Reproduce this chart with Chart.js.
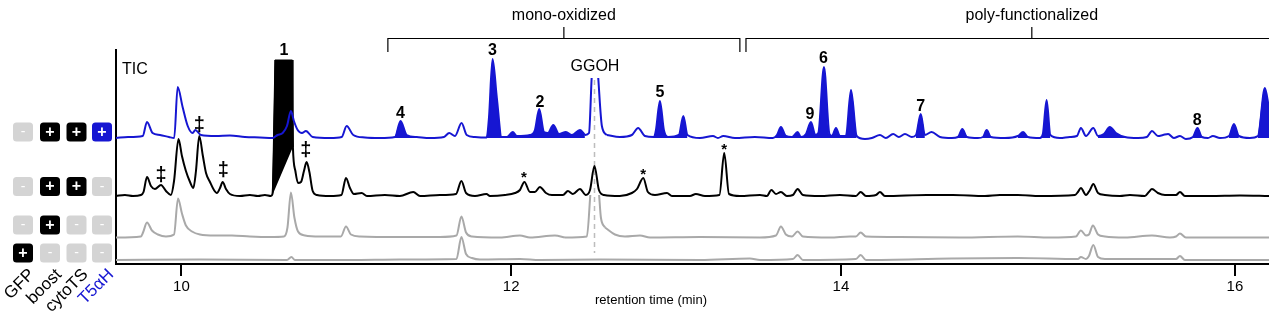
<!DOCTYPE html>
<html><head><meta charset="utf-8">
<script src="https://cdn.jsdelivr.net/npm/chart.js@4.4.0/dist/chart.umd.min.js"></script>
<style>html,body{margin:0;padding:0;background:#fff;}#wrap{width:1269px;height:327px;}</style>
</head><body><div id="wrap"><canvas id="c" width="1269" height="327"></canvas></div>
<script>
// ---------- data (retention time in min, TIC height above each trace's own baseline) ----------
const retentionTicks = [10, 12, 14, 16];
const tickLabels = ['10', '12', '14', '16'];
const traceNames = ['GFP+boost+cytoTS+T5αH', 'boost+cytoTS', 'boost', 'GFP'];
const traceOffsets = [126, 68, 26.5, 4];

const ticBlue = [[9.603,0],[9.676,1],[9.765,2],[9.791,16],[9.825,5],[9.870,3],[9.924,1],[9.956,0],[9.977,51],[10.007,31],[10.038,12],[10.068,5],[10.084,8],[10.118,3],[10.209,2],[10.294,2.5],[10.385,1],[10.476,0.5],[10.553,0],[10.583,3],[10.614,5],[10.640,12],[10.664,27],[10.682,17],[10.705,8],[10.731,5],[10.755,7],[10.796,1],[10.901,0],[10.972,1],[11.002,12],[11.042,3],[11.113,0.5],[11.204,0],[11.295,1],[11.329,17],[11.366,3],[11.427,1],[11.507,0],[11.592,1],[11.624,5],[11.659,2],[11.699,15],[11.730,3],[11.780,1],[11.851,0.5],[11.865,20],[11.887,79],[11.913,40],[11.942,1],[11.974,1],[12.009,6],[12.035,2],[12.114,3],[12.144,8],[12.170,29],[12.199,6],[12.223,5],[12.255,13],[12.290,4],[12.332,6],[12.368,3],[12.417,8],[12.447,3],[12.472,5],[12.488,60],[12.508,110],[12.528,60],[12.550,12],[12.579,3],[12.659,1],[12.732,3],[12.770,10],[12.811,2],[12.866,1],[12.878,8],[12.902,37],[12.926,8],[12.951,1],[13.017,3],[13.044,22],[13.069,3],[13.145,0],[13.224,2],[13.254,0],[13.286,2],[13.357,0],[13.478,1],[13.587,0],[13.612,3],[13.636,11],[13.666,2],[13.703,1],[13.737,6],[13.757,1],[13.788,4],[13.818,16],[13.845,3],[13.863,5],[13.897,71],[13.930,4],[13.945,2],[13.970,10],[13.994,2],[14.025,2],[14.051,48],[14.080,2],[14.122,-1],[14.157,0],[14.198,3],[14.228,0],[14.265,4],[14.294,1],[14.325,4],[14.360,1],[14.381,3],[14.405,24],[14.426,3],[14.460,6],[14.503,1],[14.563,0],[14.594,1],[14.616,9],[14.640,1],[14.695,0],[14.721,1],[14.740,8],[14.761,1],[14.832,0],[14.898,2],[14.925,6],[14.949,1],[15.010,0],[15.025,4],[15.044,38],[15.063,3],[15.112,0],[15.162,1],[15.198,2],[15.218,10],[15.244,2],[15.281,10],[15.305,2],[15.335,4],[15.365,11],[15.396,5],[15.442,1],[15.508,0],[15.553,1],[15.579,7],[15.609,2],[15.635,3],[15.661,4],[15.690,0],[15.721,2],[15.751,-1],[15.787,1],[15.810,10],[15.832,1],[15.863,0],[15.888,2],[15.924,0],[15.970,2],[15.995,14],[16.020,2],[16.076,0],[16.117,2],[16.152,50],[16.173,30]];

const ticBlack = [[9.603,0],[9.657,1],[9.706,0],[9.754,1],[9.770,4],[9.791,19],[9.815,10],[9.839,7],[9.876,11],[9.906,5],[9.936,1],[9.955,15],[9.982,57],[10.003,40],[10.027,25],[10.052,14],[10.072,8],[10.088,25],[10.108,60],[10.130,40],[10.149,23],[10.173,14],[10.197,6],[10.215,3],[10.234,8],[10.250,14],[10.270,7],[10.294,2],[10.355,0],[10.415,1],[10.464,0],[10.506,1],[10.543,0],[10.552,2],[10.617,590],[10.676,49],[10.691,25],[10.707,13],[10.725,14],[10.743,25],[10.759,34],[10.776,24],[10.796,5],[10.822,1],[10.901,0],[10.970,1],[10.998,18],[11.022,8],[11.046,2],[11.093,3],[11.125,0],[11.234,1],[11.325,0],[11.406,4],[11.447,0],[11.568,1],[11.665,2],[11.698,15],[11.726,3],[11.780,0],[11.850,2],[11.871,0],[11.962,1],[12.023,3],[12.053,6],[12.080,14],[12.114,4],[12.144,4],[12.174,9],[12.211,3],[12.247,1],[12.314,1],[12.344,5],[12.374,2],[12.417,7],[12.453,1],[12.478,6],[12.505,30],[12.532,6],[12.563,1],[12.659,0],[12.732,3],[12.763,7],[12.801,18],[12.829,4],[12.872,1],[12.945,3],[12.975,0],[13.084,0],[13.120,2],[13.175,0],[13.263,1],[13.292,43],[13.321,2],[13.387,0],[13.509,1],[13.551,0],[13.578,6],[13.606,2],[13.636,4],[13.672,0],[13.709,1],[13.737,7],[13.769,1],[13.873,0],[13.994,1],[14.076,0],[14.100,4],[14.127,0],[14.178,1],[14.198,4],[14.223,0],[14.435,1],[14.569,1],[14.731,0],[14.807,1],[14.898,1],[15.010,0],[15.188,1],[15.203,4],[15.218,8],[15.244,1],[15.264,6],[15.281,12],[15.305,3],[15.340,1],[15.416,0],[15.467,1],[15.543,0],[15.563,4],[15.579,7],[15.609,3],[15.645,1],[15.701,1],[15.721,4],[15.746,0],[15.873,0],[16.025,0.5],[16.173,0]];

const ticBoost = [[9.603,0],[9.754,1],[9.767,5],[9.791,15],[9.821,7],[9.857,3],[9.906,1],[9.955,3],[9.979,39],[10.003,24],[10.027,12],[10.064,6],[10.112,3],[10.203,2],[10.306,2],[10.415,1],[10.537,0.5],[10.622,1],[10.643,10],[10.664,45],[10.685,20],[10.707,6],[10.749,2],[10.840,1],[10.967,1],[10.998,11],[11.028,3],[11.083,1],[11.325,0.5],[11.568,0.5],[11.668,2],[11.698,21],[11.726,5],[11.762,1],[11.932,0],[12.053,2],[12.114,0],[12.265,2],[12.326,0],[12.459,1],[12.481,45],[12.505,90],[12.532,45],[12.544,20],[12.569,10],[12.629,3],[12.690,1],[12.781,2],[12.842,0],[13.145,0.5],[13.509,0],[13.606,2],[13.636,11],[13.666,3],[13.703,1],[13.737,6],[13.769,1],[13.933,0],[14.046,1],[14.076,1],[14.100,5],[14.127,1],[14.299,0.5],[14.604,0],[14.898,1],[15.063,0],[15.193,1],[15.218,7],[15.244,2],[15.259,3],[15.279,12],[15.305,3],[15.340,1],[15.442,0],[15.579,2],[15.670,0],[15.701,1],[15.721,4],[15.751,0],[16.173,0]];

const ticGFP = [[9.603,0],[10.112,0.5],[10.640,0],[10.667,3],[10.688,0],[11.022,0],[11.325,0.5],[11.668,1],[11.698,23],[11.726,6],[11.762,2],[11.810,0.5],[12.053,1],[12.174,0],[12.538,0.5],[13.145,0],[13.448,1.5],[13.509,0],[13.709,1],[13.737,5],[13.769,0],[14.076,1],[14.100,5],[14.127,0],[14.562,1.5],[14.898,2],[15.203,1],[15.218,3],[15.244,1],[15.259,4],[15.281,15],[15.305,3],[15.340,1],[15.701,1],[15.721,4],[15.746,0],[16.173,0]];

// integrated (filled) blue peaks, retention-time windows
const blueFilledWindows = [[11.295,11.427],[11.851,11.942],[11.974,12.035],[12.114,12.447],[12.866,12.951],[13.017,13.069],[13.587,14.080],[14.381,14.426],[14.594,14.640],[14.721,14.761],[14.898,14.949],[15.010,15.063],[15.305,15.442],[15.787,15.832],[15.970,16.020],[16.117,16.173]];
// compound 1 (truncated, filled) outline on the boost+cytoTS trace
const peak1Outline = [[10.552,1],[10.567,136],[10.673,136],[10.676,49]];
const ggohTime = 12.505;
const ggohWindow = [12.455, 12.56];

const peakLabels = [['1',10.622,213],['3',11.887,213],['4',11.329,150],['2',12.174,161.5],['5',12.902,171],['9',13.812,149],['6',13.894,205],['7',14.405,157.5],['8',15.809,143]];
const daggers = [[9.876,89],[10.108,139],[10.254,94],[10.755,114]];
const stars = [[12.077,89],[12.801,92],[13.292,117]];
const brackets = [['mono-oxidized',11.252,13.387],['poly-functionalized',13.424,16.42]];

const conditionNames = ['GFP', 'boost', 'cytoTS', 'T5αH'];
const conditionRows = [[0,1,1,1],[0,1,1,0],[0,1,0,0],[1,0,0,0]];

// ---------- styling ----------
const BLUE = '#1616d2', GRAY = '#a9a9a9', FONT = "'Liberation Sans', Arial, Helvetica, sans-serif";

// axis drawn with a stretched segment after 14 min, as in the figure
class SegLinear extends Chart.LinearScale {
  static id = 'segLinear';
  static defaults = Chart.LinearScale.defaults;
  warp(v) { return v <= 14 ? v : 14 + (v - 14) * 1.1948; }
  unwarp(u) { return u <= 14 ? u : 14 + (u - 14) / 1.1948; }
  getPixelForValue(v) {
    const a = this.warp(this.min), b = this.warp(this.max);
    return this.left + (this.warp(v) - a) / (b - a) * this.width;
  }
  getValueForPixel(p) {
    const a = this.warp(this.min), b = this.warp(this.max);
    return this.unwarp(a + (p - this.left) / this.width * (b - a));
  }
}
Chart.register(SegLinear);

const pts = (arr, off) => arr.map(([t, h]) => ({x: t, y: h + off}));
function split(arr, off, w) {
  const main = [], brk = [];
  let gapAdded = false;
  arr.forEach(([t, h], i) => {
    const inside = t > w[0] && t < w[1];
    const nextIn = i + 1 < arr.length && arr[i + 1][0] > w[0] && arr[i + 1][0] < w[1];
    const prevIn = i > 0 && arr[i - 1][0] > w[0] && arr[i - 1][0] < w[1];
    if (!inside) {
      if (prevIn && !gapAdded) { main.push({x: (w[0] + w[1]) / 2, y: null}); gapAdded = true; }
      main.push({x: t, y: h + off});
    }
    if (inside || nextIn || prevIn) brk.push({x: t, y: h + off});
  });
  return {main, brk};
}
function filled(arr, off, wins) {
  const out = [];
  let last = false;
  arr.forEach(([t, h]) => {
    const inWin = wins.some(([a, b]) => t >= a - 1e-6 && t <= b + 1e-6);
    if (inWin) { out.push({x: t, y: h + off}); last = true; }
    else if (last) { out.push({x: t, y: null}); last = false; }
  });
  return out;
}

const blueSplit = split(ticBlue, traceOffsets[0], ggohWindow);
const boostSplit = split(ticBoost, traceOffsets[2], ggohWindow);

const lineDs = (label, data, color, extra) => Object.assign({
  label, data, borderColor: color, backgroundColor: color, borderWidth: 2,
  pointRadius: 0, fill: false, cubicInterpolationMode: 'monotone', spanGaps: false
}, extra || {});

const datasets = [
  lineDs(traceNames[0], blueSplit.main, BLUE),
  lineDs(traceNames[0] + ' GGOH', blueSplit.brk, BLUE, {clip: {left: 0, top: -28, right: 0, bottom: 0}}),
  lineDs('integrated', filled(ticBlue, traceOffsets[0], blueFilledWindows), 'rgba(0,0,0,0)', {backgroundColor: BLUE, fill: {value: traceOffsets[0]}, borderWidth: 1}),
  lineDs(traceNames[1], pts(ticBlack, traceOffsets[1]), '#000', {clip: {left: 0, top: -10, right: 0, bottom: 0}}),
  lineDs('1', pts(peak1Outline, traceOffsets[1]), '#000', {backgroundColor: '#000', fill: 'shape', cubicInterpolationMode: 'default', tension: 0, borderWidth: 1}),
  lineDs(traceNames[2], boostSplit.main, GRAY),
  lineDs(traceNames[2] + ' GGOH', boostSplit.brk, GRAY, {clip: {left: 0, top: -145, right: 0, bottom: 0}}),
  lineDs(traceNames[3], pts(ticGFP, traceOffsets[3]), GRAY)
];

function roundBox(ctx, x, y, w, h, r) {
  ctx.beginPath();
  ctx.moveTo(x + r, y); ctx.lineTo(x + w - r, y); ctx.quadraticCurveTo(x + w, y, x + w, y + r);
  ctx.lineTo(x + w, y + h - r); ctx.quadraticCurveTo(x + w, y + h, x + w - r, y + h);
  ctx.lineTo(x + r, y + h); ctx.quadraticCurveTo(x, y + h, x, y + h - r);
  ctx.lineTo(x, y + r); ctx.quadraticCurveTo(x, y, x + r, y); ctx.closePath();
}

const annot = {
  id: 'annot',
  beforeDatasetsDraw(chart) {
    const {ctx} = chart, xs = chart.scales.x, ys = chart.scales.y;
    const x = Math.round(xs.getPixelForValue(ggohTime)) + 0.5;
    ctx.save();
    ctx.strokeStyle = '#bdbdbd'; ctx.lineWidth = 1.5; ctx.setLineDash([5, 4]);
    ctx.beginPath(); ctx.moveTo(x, ys.getPixelForValue(184)); ctx.lineTo(x, ys.getPixelForValue(11)); ctx.stroke();
    ctx.restore();
  },
  afterDraw(chart) {
    const {ctx} = chart, xs = chart.scales.x, ys = chart.scales.y;
    const X = v => xs.getPixelForValue(v), Y = v => ys.getPixelForValue(v);
    ctx.save();
    ctx.fillStyle = '#000'; ctx.textAlign = 'center'; ctx.textBaseline = 'middle';
    // peak numbers
    ctx.font = 'bold 16px ' + FONT;
    peakLabels.forEach(([s, t, y]) => ctx.fillText(s, X(t), Y(y)));
    ctx.font = '16px ' + FONT;
    ctx.fillText('GGOH', X(12.508), Y(197));
    ctx.textAlign = 'left';
    ctx.fillText('TIC', X(9.639), Y(194));
    ctx.textAlign = 'center';
    ctx.font = 'bold 20px ' + FONT;
    daggers.forEach(([t, y]) => ctx.fillText('‡', X(t), Y(y)));
    ctx.font = 'bold 15px ' + FONT;
    stars.forEach(([t, y]) => ctx.fillText('*', X(t), Y(y) + 3));
    // brackets
    ctx.strokeStyle = '#000'; ctx.lineWidth = 1.2; ctx.font = '16px ' + FONT;
    brackets.forEach(([s, a, b]) => {
      const xa = X(a), xb = X(b), xm = (xa + xb) / 2;
      ctx.beginPath();
      ctx.moveTo(xa, 52); ctx.lineTo(xa, 38.5); ctx.lineTo(xb, 38.5); ctx.lineTo(xb, 52);
      ctx.moveTo(xm, 38.5); ctx.lineTo(xm, 27);
      ctx.stroke();
      ctx.fillText(s, xm, 16);
    });
    // axis title
    ctx.font = '13px ' + FONT;
    ctx.fillText('retention time (min)', 651, 300);
    // condition panel
    const colX = [23, 50, 76.5, 102], rowY = [132, 186.5, 225, 253];
    conditionRows.forEach((row, r) => row.forEach((on, c) => {
      ctx.fillStyle = on ? (c === 3 ? BLUE : '#000') : '#d4d4d4';
      roundBox(ctx, colX[c] - 10, rowY[r] - 9.5, 20, 19, 3.5); ctx.fill();
      ctx.fillStyle = '#fff';
      ctx.font = (on ? 'bold 16px ' : '14px ') + FONT;
      ctx.fillText(on ? '+' : '-', colX[c], rowY[r] + 0.5);
    }));
    ctx.font = '17px ' + FONT; ctx.textAlign = 'right'; ctx.textBaseline = 'middle';
    conditionNames.forEach((s, c) => {
      ctx.save();
      ctx.translate(colX[c] + 9, 272);
      ctx.rotate(-Math.PI / 4);
      ctx.fillStyle = c === 3 ? BLUE : '#000';
      ctx.fillText(s, 0, 0);
      ctx.restore();
    });
    ctx.restore();
  }
};

new Chart(document.getElementById('c'), {
  type: 'line',
  data: {datasets},
  plugins: [annot],
  options: {
    responsive: false, animation: false, devicePixelRatio: 1,
    layout: {padding: {top: 50, left: 0, right: 0, bottom: 0}},
    plugins: {legend: {display: false}, tooltip: {enabled: false}},
    scales: {
      x: {
        type: 'segLinear', min: 9.603, max: 16.173,
        afterBuildTicks: s => { s.ticks = retentionTicks.map(v => ({value: v})); },
        afterFit: s => { s.height = 63; },
        ticks: {callback: (v, i) => tickLabels[i], font: {family: FONT, size: 15}, color: '#000', padding: 2, maxRotation: 0, autoSkip: false},
        grid: {drawOnChartArea: false, drawTicks: true, tickLength: 12, color: '#000', lineWidth: 2},
        border: {display: true, color: '#000', width: 2}
      },
      y: {
        min: 0, max: 214,
        afterFit: s => { s.width = 116; },
        ticks: {display: false},
        grid: {display: false, drawTicks: false},
        border: {display: true, color: '#000', width: 2}
      }
    }
  }
});
</script></body></html>
